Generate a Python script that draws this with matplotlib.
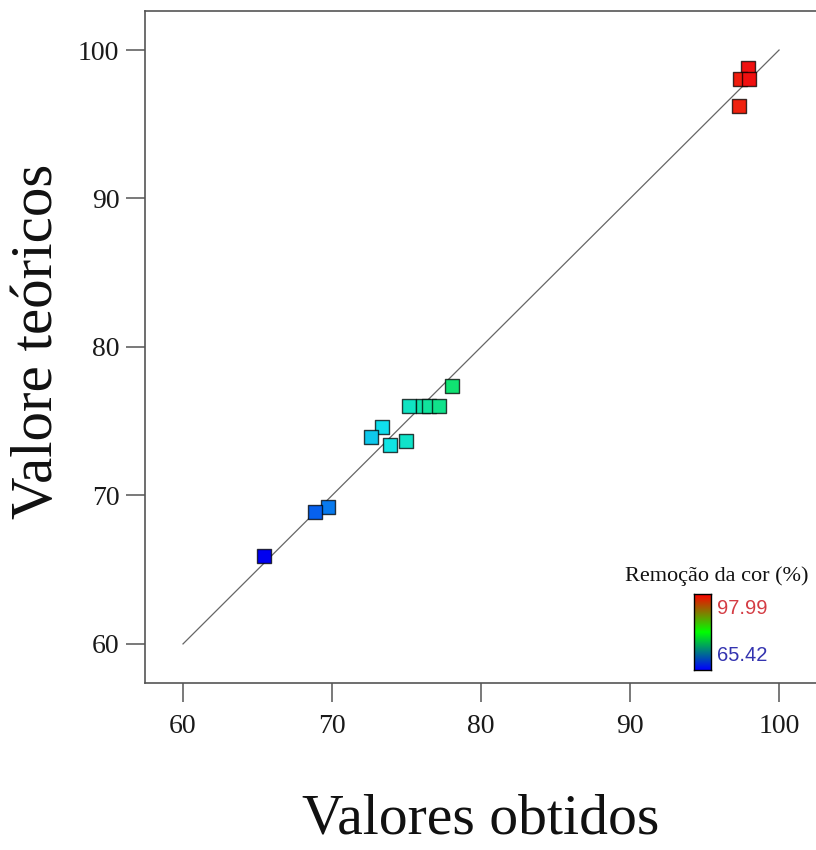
import matplotlib
matplotlib.use("Agg")
import matplotlib.pyplot as plt
import numpy as np
from matplotlib.colors import LinearSegmentedColormap

valores_obtidos = [73.33, 72.62, 73.89, 74.95, 65.42, 69.75, 68.86,
                   75.15, 76.09, 76.53, 77.20, 78.05,
                   97.94, 97.31, 97.38, 97.99]
valores_teoricos = [74.59, 73.96, 73.38, 73.69, 65.93, 69.20, 68.91,
                    76.05, 76.05, 76.05, 76.05, 77.37,
                    98.77, 96.23, 98.05, 98.05]
cor_min, cor_max = 65.42, 97.99
ticks = [60, 70, 80, 90, 100]

serif = ["Liberation Serif", "DejaVu Serif"]
sans = ["Liberation Sans", "DejaVu Sans"]

# blue -> cyan -> green -> yellow -> red for the markers
cmap_pts = LinearSegmentedColormap.from_list(
    "pts", [(0.0, "#0000f0"), (0.25, "#10e4ec"), (0.5, "#10e010"),
            (0.75, "#f0f000"), (1.0, "#f01010")])
# plain red/green/blue ramp used for the little colour bar
cmap_bar = LinearSegmentedColormap.from_list("bar", ["#0000ff", "#00ff00", "#ff0000"])

fig = plt.figure(figsize=(8.16, 8.5), dpi=100)
ax = fig.add_axes([0.1777, 0.1965, 0.8395, 0.7906])

# 1:1 reference line
ax.plot([60, 100], [60, 100], color="#666666", lw=0.9, zorder=1)

ax.scatter(valores_obtidos, valores_teoricos, c=valores_obtidos, cmap=cmap_pts,
           vmin=cor_min, vmax=cor_max, marker="s", s=100,
           edgecolors=(0, 0, 0, 0.75), linewidths=1.0, zorder=3)

ax.set_xlim(57.45, 103.42)
ax.set_ylim(57.37, 102.63)
ax.set_xticks(ticks)
ax.set_yticks(ticks)
ax.spines["right"].set_visible(False)
for sp in ["left", "top", "bottom"]:
    ax.spines[sp].set_color("#555555")
    ax.spines[sp].set_linewidth(1.2)
ax.tick_params(direction="out", length=13.5, width=1.1, color="#555555",
               labelsize=20, labelcolor="#1a1a1a")
ax.tick_params(axis="x", pad=9)
ax.tick_params(axis="y", pad=5)
for lab in ax.get_xticklabels() + ax.get_yticklabels():
    lab.set_family(serif)

# axis titles placed on the figure
fig.text(0.5895, 0.02, "Valores obtidos", family=serif, fontsize=41.5,
         ha="center", va="baseline", color="#111111")
fig.text(0.046, 0.598, "Valore teóricos", family=serif, fontsize=42.5,
         rotation=90, ha="center", va="center", color="#111111")

# colour bar legend in the lower right corner
cax = fig.add_axes([0.8505, 0.2118, 0.0208, 0.0894])
grad = np.linspace(0, 1, 256).reshape(-1, 1)
cax.imshow(grad, cmap=cmap_bar, aspect="auto", origin="lower")
cax.set_xticks([])
cax.set_yticks([])
for sp in cax.spines.values():
    sp.set_color("black")
    sp.set_linewidth(1.0)

fig.text(0.878, 0.3165, "Remoção da cor (%)", family=serif, fontsize=16,
         ha="center", va="baseline", color="#111111")
fig.text(0.8787, 0.2847, f"{cor_max:.2f}", family=sans, fontsize=14.5,
         ha="left", va="center", color="#d43c44")
fig.text(0.8787, 0.2294, f"{cor_min:.2f}", family=sans, fontsize=14.5,
         ha="left", va="center", color="#3434b0")

fig.savefig("out.png", dpi=100)
